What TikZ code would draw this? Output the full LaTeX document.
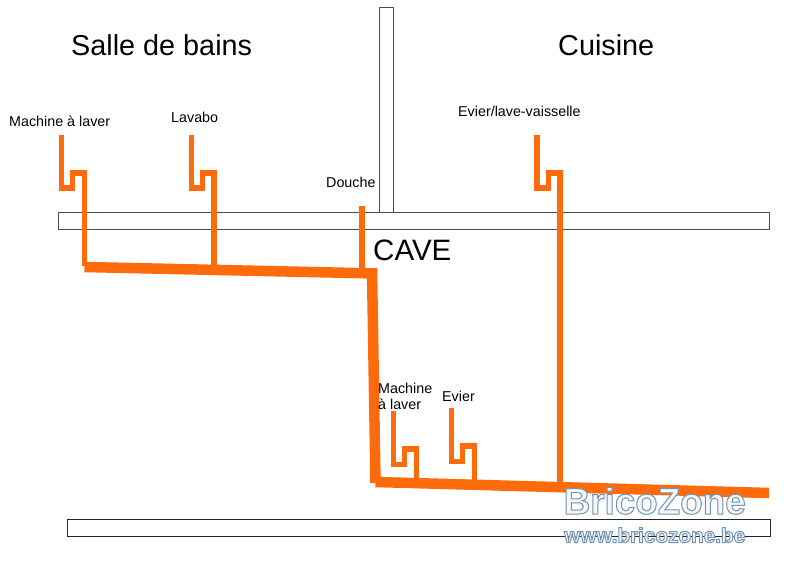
\documentclass[tikz,border=0pt]{standalone}
\usepackage{fontspec}
\setmainfont{Liberation Sans}
\definecolor{pipe}{HTML}{FF6A0A}
\newcommand{\outlined}[1]{\special{pdf:code q 2 Tr #1 w 0.44 0.58 0.71 RG 0.96 0.97 0.98 rg}}
\newcommand{\unoutlined}{\special{pdf:code Q 0 Tr}}
\tikzset{
  wall/.style={draw=black!70,line width=1pt,fill=white},
  thin pipe/.style={draw=pipe,line width=5.5pt,line join=miter},
  main pipe/.style={draw=pipe,line width=10.5pt},
  big/.style={anchor=base west,inner sep=0pt,font=\fontsize{28.8}{30}\selectfont},
  small/.style={anchor=base west,inner sep=0pt,font=\fontsize{14.3}{16}\selectfont}
}
\begin{document}
\begin{tikzpicture}[x=1pt,y=-1pt]
\useasboundingbox (0,0) rectangle (799,580);
\fill[white] (0,0) rectangle (799,580);
% walls
\draw[wall] (379.5,7.5) rectangle (393.5,212);
\draw[wall] (58,212) rectangle (769.5,229);
\draw[wall,draw=black!85] (67,519) rectangle (770,536);
% thin pipes
\draw[thin pipe] (61.5,135) -- (61.5,188) -- (72.5,188) -- (72.5,173) -- (84.5,173) -- (84.5,266);
\draw[thin pipe] (191.5,135) -- (191.5,188) -- (202.5,188) -- (202.5,173) -- (214,173) -- (214,268);
\draw[thin pipe] (362,206) -- (362,272);
\draw[thin pipe] (537,135) -- (537,188) -- (548.5,188) -- (548.5,173) -- (560,173) -- (560,486);
\draw[thin pipe] (393.5,411) -- (393.5,464.5) -- (404.5,464.5) -- (404.5,449) -- (416.5,449) -- (416.5,481);
\draw[thin pipe] (451.5,408) -- (451.5,461.5) -- (462.5,461.5) -- (462.5,446) -- (474.5,446) -- (474.5,482);
% main pipes
\draw[main pipe] (84.5,267) -- (377,273.5);
\draw[main pipe] (372,269) -- (375.5,483);
\draw[main pipe] (375.5,482) -- (769,493);
% labels
\node[big] (salle) at (71,55.5) {Salle de bains};
\node[big] (cuisine) at (558,55.5) {Cuisine};
\node[big,font=\fontsize{29.5}{31}\selectfont] (cave) at (373,260) {CAVE};
\node[small] (m1) at (9,127) {Machine à laver};
\node[small] (lav) at (171,123) {Lavabo};
\node[small] (dou) at (326,187) {Douche};
\node[small] (ev1) at (458,117) {Evier/lave-vaisselle};
\node[small] (m2) at (378,393) {Machine};
\node[small] (m3) at (378,409) {à laver};
\node[small] (ev2) at (442,401) {Evier};
% watermark
\node[anchor=base west,inner sep=0pt,font=\bfseries\fontsize{36.8}{40}\selectfont] (wm1) at (563.5,514) {\outlined{1}BricoZone\unoutlined};
\node[anchor=base west,inner sep=0pt,font=\bfseries\fontsize{20.7}{22}\selectfont] (wm2) at (564,542.5) {\outlined{1}www.bricozone.be\unoutlined};
\end{tikzpicture}
\end{document}
